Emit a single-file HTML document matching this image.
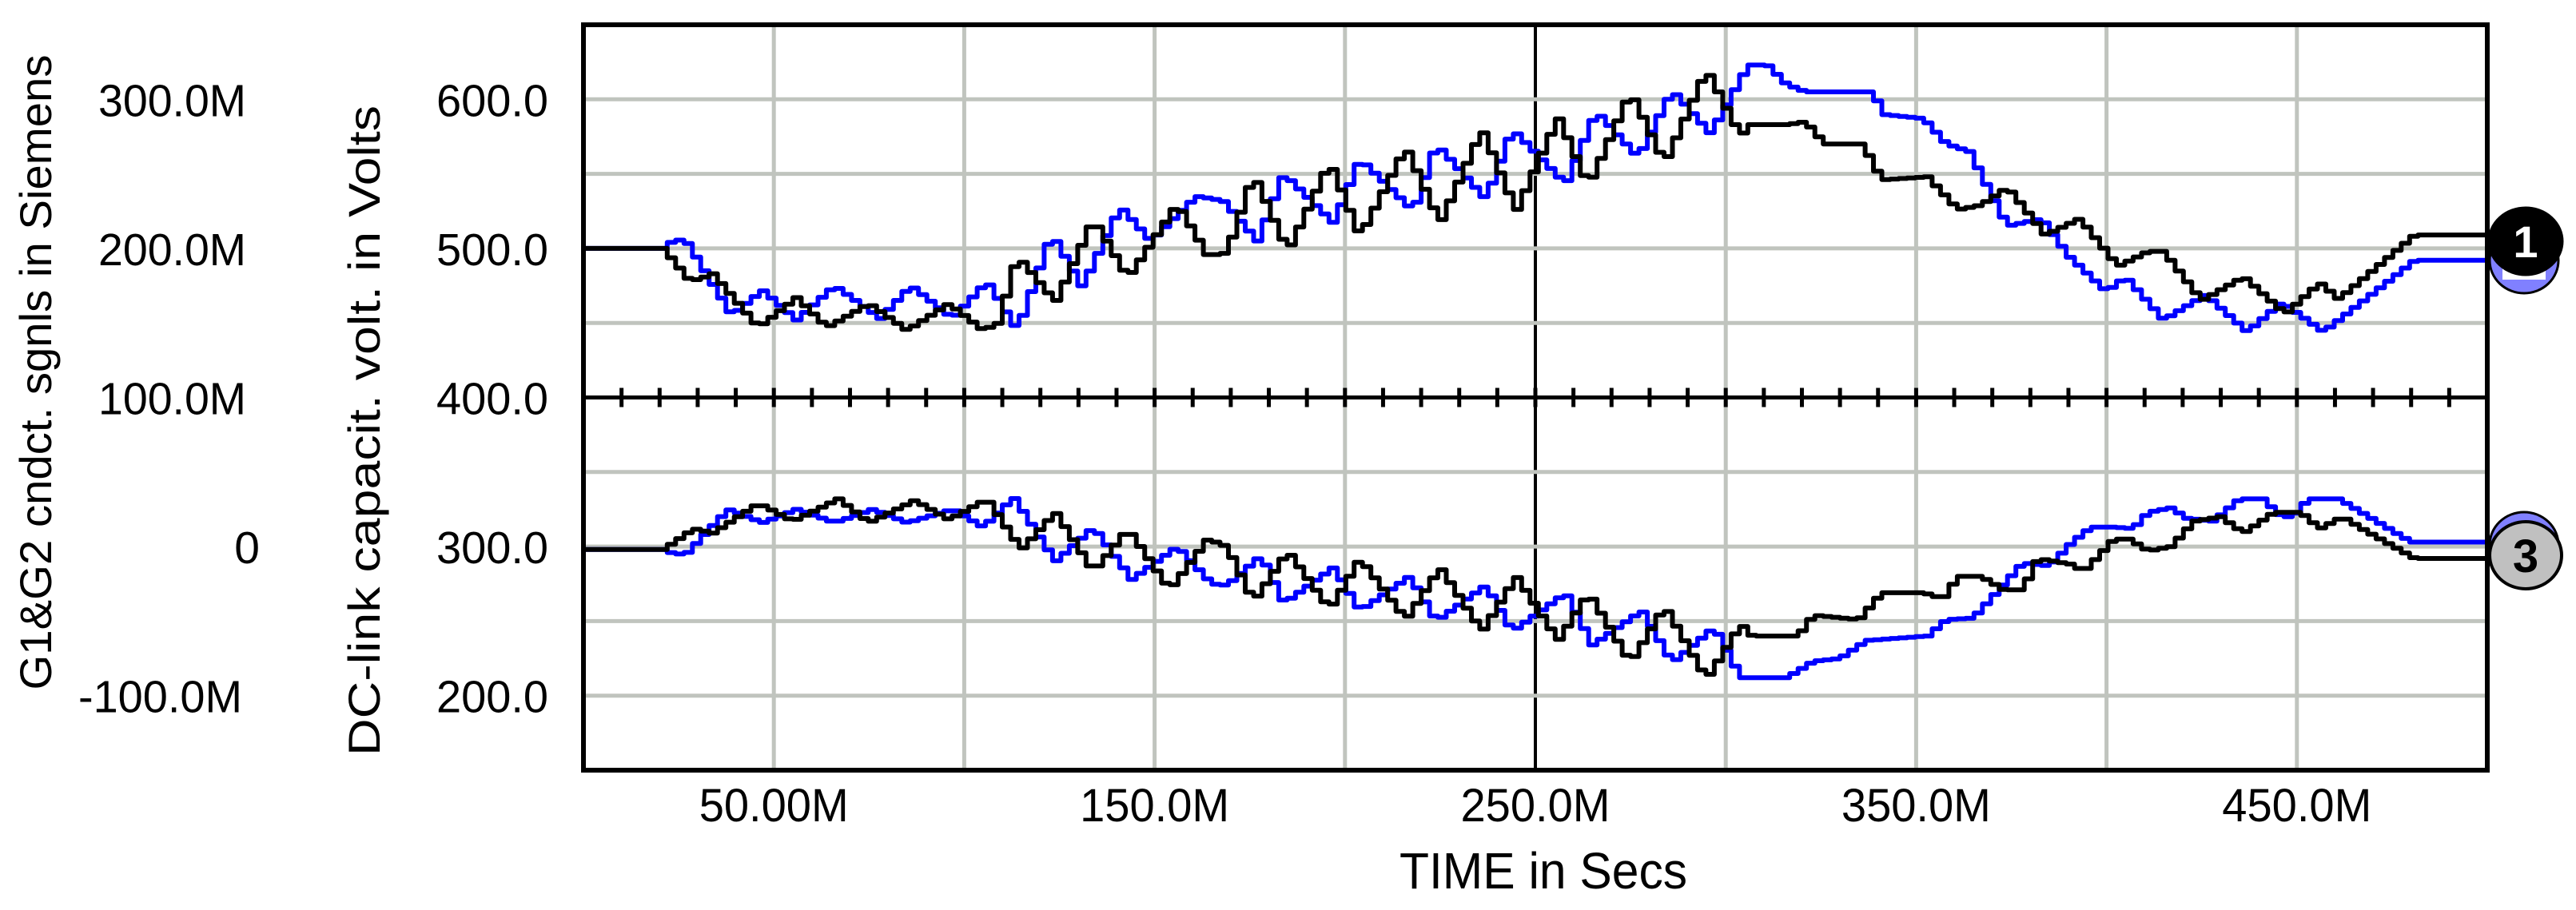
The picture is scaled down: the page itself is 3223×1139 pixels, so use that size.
<!DOCTYPE html>
<html><head><meta charset="utf-8"><title>DC-link capacitor voltage vs time</title>
<style>
html,body{margin:0;padding:0;background:#fff;}
svg{display:block;font-family:"Liberation Sans",Arial,sans-serif;}
</style></head>
<body>
<svg id="chart" width="3223" height="1139" viewBox="0 0 3223 1139" xmlns="http://www.w3.org/2000/svg">
  <rect x="0" y="0" width="3223" height="1139" fill="#ffffff"/>
  <g id="grid"></g>
  <g id="series"></g>
  <g id="frame"></g>
  <g id="labels"></g>
  <text x="1931" y="1112" font-size="64" text-anchor="middle" textLength="360" lengthAdjust="spacingAndGlyphs">TIME in Secs</text>
  <text transform="translate(64,466) rotate(-90)" font-size="56" text-anchor="middle" textLength="795" lengthAdjust="spacingAndGlyphs">G1&amp;G2 cndct. sgnls in Siemens</text>
  <text transform="translate(475,539) rotate(-90)" font-size="56" text-anchor="middle" textLength="814" lengthAdjust="spacingAndGlyphs">DC-link capacit. volt. in Volts</text>
  <g>
    <ellipse cx="3158" cy="326" rx="43" ry="41" fill="#8080ff" stroke="#000" stroke-width="3"/>
    <rect x="3131" y="322" width="54" height="28" fill="#fff"/>
    <rect x="3136" y="333" width="44" height="6" fill="#0000ff"/>
  </g>
  <g>
    <ellipse cx="3160" cy="302" rx="46" ry="42" fill="#000" stroke="#000" stroke-width="3"/>
    <text x="3160" y="322" font-size="56" font-weight="bold" fill="#fff" text-anchor="middle">1</text>
  </g>
  <g>
    <ellipse cx="3158" cy="682" rx="43" ry="41" fill="#8080ff" stroke="#000" stroke-width="3"/>
  </g>
  <g>
    <ellipse cx="3160" cy="695" rx="45" ry="42" fill="#c0c0c0" stroke="#000" stroke-width="4"/>
    <text x="3160" y="716" font-size="58" font-weight="bold" fill="#000" text-anchor="middle">3</text>
  </g>
</svg>
<script>
// ---- data (time in M-seconds, values in volts) ----
var upperBlackT = [0,20,27,30,33,45,55,63,74,84,95,104,108,113,123,133,142,155,163,168,175,184,195,203,215,224,235,244,255,263,274,283,294,303,305,315,320,325,335,340,352,360,366,373,383,392,402,410,414,424,435,446,455,460,480,500];
var upperBlackV = [500,500,478,480,483,447,467,447,463,445,463,445,450,495,464,520,480,530,495,497,550,498,558,508,568,517,580,525,588,542,605,557,620,575,583,583,585,570,570,546,548,526,529,541,509,520,488,498,498,465,481,456,477,466,509,509];
var upperBlueT = [0,20,23,26,38,46,55,65,77,85,96,105,113,122,130,140,148,160,167,176,183,196,203,217,223,236,243,257,265,276,285,295,305,310,315,320,338,340,351,357,363,373,382,389,399,404,414,425,436,445,456,480,500];
var upperBlueV = [500,500,506,505,455,472,452,475,453,475,453,478,445,510,474,528,505,535,532,505,550,517,560,525,570,533,580,543,592,561,606,577,623,623,610,605,605,590,587,570,565,515,520,495,471,481,452,469,444,464,444,492,492];
var lowerBlackT = [0,20,28,33,45,54,66,74,86,95,105,114,123,133,142,153,163,168,175,184,195,203,215,224,235,244,255,263,274,283,294,303,306,318,322,334,340,351,356,360,366,372,377,381,390,393,401,405,410,416,422,429,435,443,450,455,461,466,480,500];
var lowerBlackV = [298,298,312,309,329,317,332,316,331,318,332,298,323,283,312,271,305,300,263,297,258,292,251,286,243,280,237,269,222,260,211,248,240,240,254,251,269,269,265,280,280,271,271,292,288,283,305,305,297,300,317,320,309,323,323,312,320,312,292,292];
var lowerBlueT = [0,20,23,26,37,46,55,65,75,84,96,104,112,123,133,143,155,164,168,177,183,196,203,216,223,236,243,257,264,277,285,296,303,315,322,329,336,352,357,364,370,377,384,390,395,401,406,410,416,420,427,434,440,445,448,452,460,479,500];
var lowerBlueV = [298,298,295,295,325,316,325,316,325,316,325,313,333,290,313,278,300,275,274,294,262,286,257,280,250,274,243,269,234,257,222,246,212,212,223,225,237,240,251,252,269,289,287,303,313,313,312,323,326,319,317,332,332,320,320,332,332,303,303];
var xTickLabels = ["50.00M","150.0M","250.0M","350.0M","450.0M"];
var xTickValues = [50,150,250,350,450];
var yVoltTicks = [600,500,400,300,200];
var yVoltLabels = ["600.0","500.0","400.0","300.0","200.0"];
var ySiemensLabels = ["300.0M","200.0M","100.0M","0","-100.0M"];

var NS = "http://www.w3.org/2000/svg";
var L = 730, R = 3112, T = 31, B = 964;
var X0 = 0, X1 = 500, Y0 = 150, Y1 = 650;
var STEP = 2.2; // simulation step in M-seconds (staircase rendering)
function xs(t){ return L + (t - X0) / (X1 - X0) * (R - L); }
function ys(v){ return B - (v - Y0) / (Y1 - Y0) * (B - T); }
function mk(tag, attrs, parent){
  var e = document.createElementNS(NS, tag);
  for (var k in attrs) e.setAttribute(k, attrs[k]);
  parent.appendChild(e);
  return e;
}
var grid = document.getElementById('grid');
var frame = document.getElementById('frame');
var labels = document.getElementById('labels');
var series = document.getElementById('series');

for (var g = 50; g < 500; g += 50) {
  var vl = mk('line', {x1: xs(g), x2: xs(g), y1: T, y2: B, stroke: g === 250 ? '#000' : '#c0c4be', 'stroke-width': g === 250 ? 4 : 5}, grid);
  
  
}
for (var h = 200; h <= 600; h += 50) {
  if (h === 400) continue;
  var hl = mk('line', {x1: L, x2: R, y1: ys(h), y2: ys(h), stroke: '#c0c4be', 'stroke-width': 5}, grid);
  
  
}
function valueAt(ts, vs, t){
  for (var i = 1; i < ts.length; i++) {
    if (t <= ts[i]) { var f = (t - ts[i-1]) / (ts[i] - ts[i-1]); return vs[i-1] + f * (vs[i] - vs[i-1]); }
  }
  return vs[vs.length - 1];
}
function drawSeries(ts, vs, color, name){
  var t = ts[0];
  var d = 'M' + xs(t).toFixed(1) + ' ' + ys(vs[0]).toFixed(1);
  var lastY = ys(vs[0]);
  while (t < ts[ts.length - 1]) {
    t = Math.min(t + STEP, ts[ts.length - 1]);
    var y = ys(valueAt(ts, vs, t));
    d += 'H' + xs(t).toFixed(1);
    if (Math.abs(y - lastY) > 0.5) { d += 'V' + y.toFixed(1); lastY = y; }
  }
  var p = mk('path', {d: d, fill: 'none', stroke: color, 'stroke-width': 6, 'stroke-linejoin': 'round'}, series);
  
  
}
drawSeries(upperBlueT, upperBlueV, '#0000ff', 'upper-blue-trace');
drawSeries(lowerBlueT, lowerBlueV, '#0000ff', 'lower-blue-trace');
drawSeries(upperBlackT, upperBlackV, '#000000', 'upper-black-trace');
drawSeries(lowerBlackT, lowerBlackV, '#000000', 'lower-black-trace');

var fr = mk('rect', {x: L, y: T, width: R - L, height: B - T, fill: 'none', stroke: '#000', 'stroke-width': 6}, frame);


var mid = mk('line', {x1: L, x2: R, y1: ys(400), y2: ys(400), stroke: '#000', 'stroke-width': 5}, frame);


for (var tk = 10; tk < 500; tk += 10) {
  var tl = mk('line', {x1: xs(tk), x2: xs(tk), y1: ys(400) - 12, y2: ys(400) + 12, stroke: '#000', 'stroke-width': 5}, frame);
  
  
}
for (var i = 0; i < xTickValues.length; i++) {
  var xt = mk('text', {x: xs(xTickValues[i]), y: 1028, 'font-size': 58, 'text-anchor': 'middle', textLength: 187, lengthAdjust: 'spacingAndGlyphs'}, labels);
  xt.textContent = xTickLabels[i];
  
  
}
for (var j = 0; j < yVoltTicks.length; j++) {
  var yt = mk('text', {x: 686, y: ys(yVoltTicks[j]) + 21, 'font-size': 57, 'text-anchor': 'end', textLength: 140, lengthAdjust: 'spacingAndGlyphs'}, labels);
  yt.textContent = yVoltLabels[j];
  
  
  var s = ySiemensLabels[j];
  var attrs = {x: s === '0' ? 325 : (s.charAt(0) === '-' ? 303 : 308), y: ys(yVoltTicks[j]) + 21, 'font-size': 57, 'text-anchor': 'end'};
  if (s.length > 1) { attrs.textLength = s.charAt(0) === '-' ? 205 : 185; attrs.lengthAdjust = 'spacingAndGlyphs'; }
  var st = mk('text', attrs, labels);
  st.textContent = s;
  
  
}
</script>
</body></html>
